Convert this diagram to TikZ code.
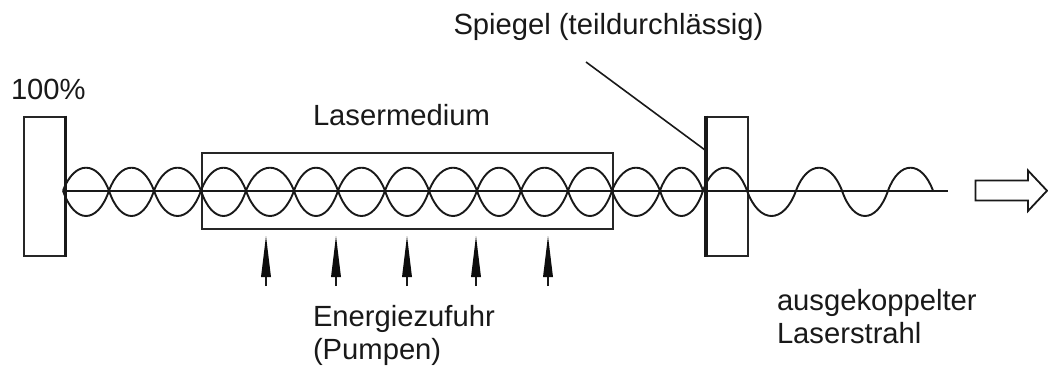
\documentclass[tikz,border=0pt]{standalone}
\usepackage{fontspec}
\setmainfont{Liberation Sans}
\tikzset{
  wave/.style={line width=1.9pt,black!90},
  axisline/.style={line width=2.2pt,black!90},
  boxline/.style={draw=black!85,line width=2pt,fill=none},
  edgeline/.style={line width=3.8pt,black!90},
  label/.style={inner sep=0pt,outer sep=0pt,font=\fontsize{29.2}{32.5}\selectfont,text=black!90,anchor=base west},
  pumpshaft/.style={line width=1.6pt,black!90},
  pumphead/.style={fill=black!95,draw=none},
  leader/.style={line width=1.6pt,black!90},
  outarrow/.style={draw=black!90,line width=1.8pt,fill=white,line join=miter}
}
\newcommand{\lobe}[3]{% from x=#1 to x=#2, peak y=#3
  \pgfmathsetmacro{\wa}{#1+0.25*(#2-#1)}
  \pgfmathsetmacro{\wb}{#1+0.75*(#2-#1)}
  \pgfmathsetmacro{\wc}{190.7+1.333*(#3-190.7)}
  \draw[wave] (#1,190.7) .. controls (\wa,\wc) and (\wb,\wc) .. (#2,190.7);
}
\begin{document}
\begin{tikzpicture}[x=1pt,y=-1pt]
\useasboundingbox (0,0) rectangle (1048,367);
\fill[white] (0,0) rectangle (1048,367);
% mirrors and medium
\node[boxline,draw,minimum width=41pt,minimum height=139pt,inner sep=0pt,anchor=north west] (mL) at (22.5,115.5) {};
\node[boxline,draw,minimum width=41pt,minimum height=139pt,inner sep=0pt,anchor=north west] (mR) at (706,115.5) {};
\node[boxline,draw,minimum width=411pt,minimum height=76pt,inner sep=0pt,anchor=north west] (med) at (201,151.5) {};
% axis
\coordinate (axL) at (63,190.7);
\coordinate (axR) at (948,190.7);
\draw[axisline] (axL) -- (axR);
% standing wave lobes
\foreach \a/\b in {63/109,109/154,154/201,201/246,246/294,294/338,338/385,385/429,429/477,477/521,521/568,568/612,612/660,660/703} {
  \lobe{\a}{\b}{167.7}
  \lobe{\a}{\b}{216}
}
% outgoing wave
\foreach \a/\b/\p in {703/747/167.7,747/796/216,796/842/167.7,842/888/216,888/933/167.7} {
  \lobe{\a}{\b}{\p}
}
% thick mirror edges
\draw[edgeline] (mL.north east) -- (mL.south east);
\draw[edgeline] (mR.north west) -- (mR.south west);
% pump arrows
\foreach \x [count=\i] in {266,336,407,476,548} {
  \coordinate (pb\i) at (\x,286);
  \coordinate (pt\i) at (\x,236);
  \draw[pumpshaft] (pb\i) -- (\x,275);
  \fill[pumphead] (pt\i) -- (\x+5,277) -- (\x-5,277) -- cycle;
}
% output arrow
\draw[outarrow] (975.5,180.5) -- (1028,180.5) -- (1028,170.5) -- (1047,190.7) -- (1028,211) -- (1028,200.5) -- (975.5,200.5) -- cycle;
% labels
\node[label] (t100) at (11,99) {100\%};
\node[label] (tspiegel) at (453.5,34) {Spiegel (teildurchlässig)};
\node[label] (tmed) at (313,125) {Lasermedium};
\node[label] (tenergie) at (313,326.5) {\begin{tabular}[t]{@{}l@{}}Energiezufuhr\\(Pumpen)\end{tabular}};
\node[label] (taus) at (777,310.5) {\begin{tabular}[t]{@{}l@{}}ausgekoppelter\\Laserstrahl\end{tabular}};
% leader
\coordinate (ls) at (586,62);
\coordinate (le) at (705,150);
\draw[leader] (ls) -- (le);
\end{tikzpicture}
\end{document}
